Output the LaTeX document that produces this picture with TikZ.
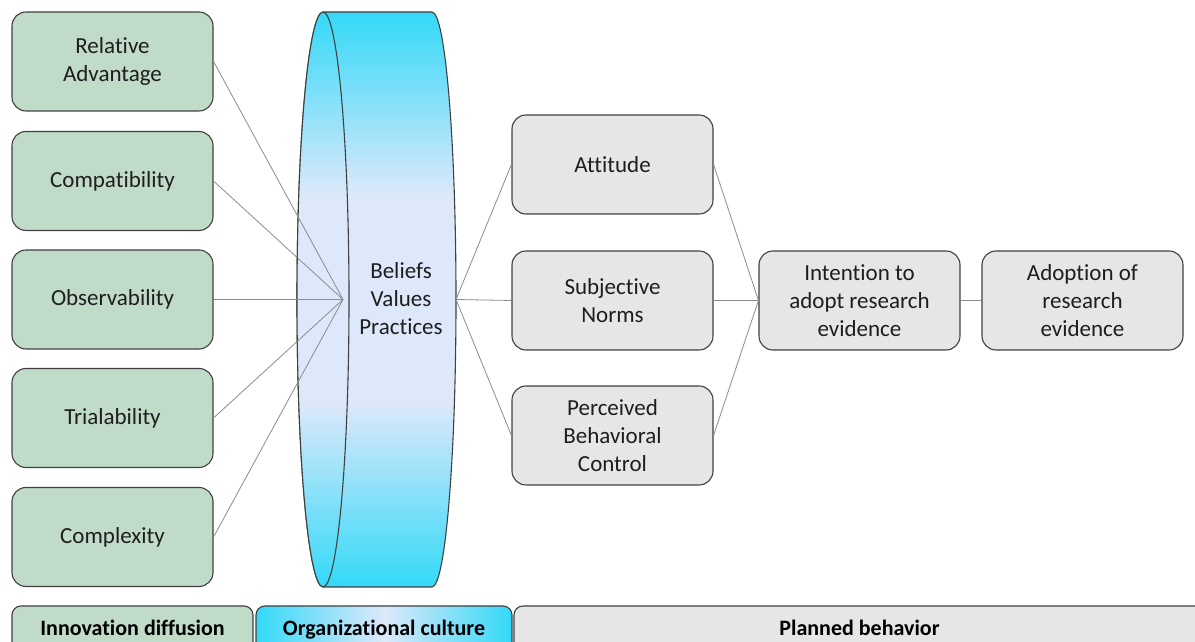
\documentclass[tikz,border=0pt]{standalone}
\usepackage{fontspec}
\setmainfont{Carlito}[Ligatures=NoCommon]
\usepackage{tikz}
\usetikzlibrary{shapes.geometric, positioning, calc}
\definecolor{cSage}{RGB}{192,220,200}
\definecolor{cGrey}{RGB}{230,230,230}
\definecolor{cCyan}{RGB}{51,217,248}
\definecolor{cIce}{RGB}{221,232,250}
\definecolor{cEdge}{RGB}{64,64,64}
\definecolor{cLink}{RGB}{140,140,140}
\definecolor{cInk}{RGB}{30,30,30}
\pgfdeclareverticalshading{culturefade}{100bp}{color(0bp)=(cCyan); color(25bp)=(cCyan); color(41bp)=(cIce); color(59bp)=(cIce); color(75bp)=(cCyan); color(100bp)=(cCyan)}
\tikzset{
	factor/.style ={rectangle, rounded corners=14pt, minimum width=201pt, minimum height=99pt, align=center, draw=cEdge, line width=1.1pt, fill=cSage, text=cInk},
	tpb/.style    ={rectangle, rounded corners=14pt, minimum width=201pt, minimum height=99pt, align=center, draw=cEdge, line width=1.1pt, fill=cGrey, text=cInk},
	band/.style   ={rectangle, rounded corners=9pt, minimum height=46pt, inner sep=0pt, text height=17pt, text depth=3pt, draw=cEdge, line width=1.1pt, font=\fontsize{22}{26}\selectfont\bfseries, text=black},
	link/.style   ={draw=cLink, line width=0.8pt},
}

\begin{document}
\begin{tikzpicture}[x=1pt, y=1pt, font=\fontsize{23}{28}\selectfont]
	\useasboundingbox (0,0) rectangle (1195,642);
	\clip (0,0) rectangle (1195,642);
	% organizational culture cylinder
	\draw[cEdge, line width=1.1pt, shading=culturefade]
		(323,630) -- (432,630) arc[start angle=90, end angle=-90, x radius=24, y radius=287.5]
		-- (323,55) arc[start angle=270, end angle=90, x radius=26, y radius=287.5] -- cycle;
	\draw[cEdge, line width=1.1pt, shading=culturefade]
		(323,342.5) ellipse[x radius=26, y radius=287.5];
	\node[align=center, text=cInk] (culture) at (401,343) {Beliefs\\ Values\\ Practices};
	\coordinate (hub) at (343,342.5);
	\coordinate (out) at (456,342.5);
	% innovation diffusion factors
	\node[factor] (ra) at (112.5,580.5) {Relative\\ Advantage};
	\node[factor] (cm) at (112.5,461)   {Compatibility};
	\node[factor] (ob) at (112.5,342.5) {Observability};
	\node[factor] (tr) at (112.5,224)   {Trialability};
	\node[factor] (cx) at (112.5,105)   {Complexity};
	% planned behavior
	\node[tpb] (at) at (612.5,477.5) {Attitude};
	\node[tpb] (sn) at (612.5,341.5) {Subjective\\ Norms};
	\node[tpb] (pc) at (612.5,206.5) {Perceived\\ Behavioral\\ Control};
	\node[tpb] (in) at (859.5,341.5) {Intention to\\ adopt research\\ evidence};
	\node[tpb] (ad) at (1082.5,341.5) {Adoption of\\ research\\ evidence};
	\foreach \f in {ra,cm,ob,tr,cx}
		\draw[link] (\f.east) -- (hub);
	\foreach \t in {at,sn,pc} {
		\draw[link] (out) -- (\t.west);
		\draw[link] (\t.east) -- (in.west);
	}
	\draw[link] (in) -- (ad);
	% theory bands
	\node[band, fill=cSage, minimum width=241pt] (bi) at (132.5,13) {Innovation diffusion};
	\node[band, left color=cCyan, right color=cCyan, middle color=cIce, minimum width=256pt] (bo) at (384,13) {Organizational culture};
	\node[band, fill=cGrey, minimum width=691pt] (bp) at (859.5,13) {Planned behavior};
\end{tikzpicture}
\end{document}
